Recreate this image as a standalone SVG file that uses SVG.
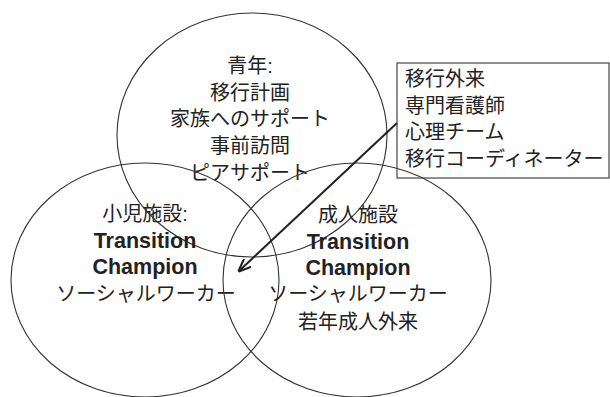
<svg xmlns="http://www.w3.org/2000/svg" width="610" height="397" viewBox="0 0 610 397">
  <style>
    .c { fill: none; stroke: #333; stroke-width: 1.1; }
    .t { font-family: "Liberation Sans", "Noto Sans CJK JP", sans-serif; font-size: 20px; fill: #222; text-anchor: middle; }
    .b { font-weight: bold; font-size: 21.5px; }
    .l { text-anchor: start; }
    .box { fill: none; stroke: #333; stroke-width: 1.1; }
    .arrow { fill: none; stroke: #222; stroke-width: 2; }
  </style>
  <defs>
    <marker id="ah" viewBox="0 0 12 10" refX="11" refY="5" markerWidth="13" markerHeight="11" markerUnits="userSpaceOnUse" orient="auto">
      <path d="M0,0 L12,5 L0,10" fill="none" stroke="#222" stroke-width="2"/>
    </marker>
  </defs>
  <rect width="610" height="397" fill="#fff"/>

  <g id="youth">
    <ellipse class="c" cx="252" cy="135" rx="135" ry="122"/>
    <text class="t" x="250" y="73">青年:</text>
    <text class="t" x="250" y="100">移行計画</text>
    <text class="t" x="250" y="126">家族へのサポート</text>
    <text class="t" x="250" y="153">事前訪問</text>
    <text class="t" x="250" y="180">ピアサポート</text>
  </g>

  <g id="pediatric">
    <ellipse class="c" cx="145" cy="280" rx="134" ry="117"/>
    <text class="t" x="145" y="221">小児施設:</text>
    <text class="t b" x="145" y="248">Transition</text>
    <text class="t b" x="145" y="274">Champion</text>
    <text class="t" x="146" y="301">ソーシャルワーカー</text>
  </g>

  <g id="adult">
    <ellipse class="c" cx="357" cy="280" rx="134" ry="117"/>
    <text class="t" x="358" y="222">成人施設</text>
    <text class="t b" x="358" y="249">Transition</text>
    <text class="t b" x="358" y="275">Champion</text>
    <text class="t" x="358" y="301">ソーシャルワーカー</text>
    <text class="t" x="358" y="329">若年成人外来</text>
  </g>

  <g id="services">
    <rect class="box" x="397" y="63" width="212" height="115"/>
    <text class="t l" x="405" y="86">移行外来</text>
    <text class="t l" x="405" y="113">専門看護師</text>
    <text class="t l" x="405" y="139">心理チーム</text>
    <text class="t l" x="405" y="166">移行コーディネーター</text>
  </g>

  <g id="connectors">
    <line class="arrow" x1="397" y1="123" x2="239" y2="271" marker-end="url(#ah)"/>
  </g>
</svg>
